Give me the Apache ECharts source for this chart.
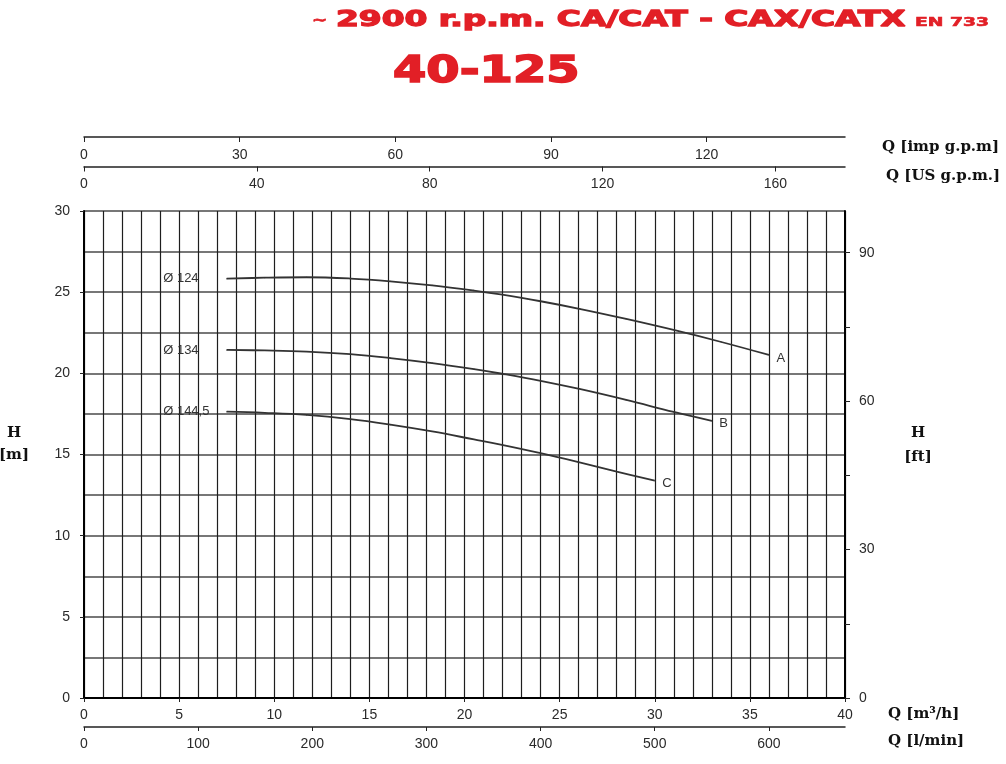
<!DOCTYPE html>
<html>
<head>
<meta charset="utf-8">
<script src="https://cdn.jsdelivr.net/npm/echarts@6/dist/echarts.min.js"></script>
<style>
html,body{margin:0;padding:0;background:#fff;}
#chart{width:1006px;height:764px;}
</style>
</head>
<body>
<div id="chart"></div>
<script>
// ---- data ----
const qA = [7.5, 9.5, 11.7, 14, 16.1, 18.3, 20.5, 21.9, 24, 26.1, 28.5, 31.1, 33.5, 36];
const hA = [25.83, 25.89, 25.92, 25.84, 25.67, 25.42, 25.1, 24.86, 24.44, 23.96, 23.35, 22.64, 21.93, 21.13];
const qB = [7.5, 9.5, 11.7, 14, 16.1, 18.3, 20.5, 21.9, 24, 26.1, 28.5, 31, 33];
const hB = [21.44, 21.41, 21.34, 21.18, 20.94, 20.63, 20.26, 19.99, 19.54, 19.02, 18.36, 17.62, 17.07];
const qC = [7.5, 9.5, 11.7, 14, 16.1, 18.3, 20.5, 21.9, 24, 26.1, 28, 30];
const hC = [17.64, 17.57, 17.44, 17.18, 16.84, 16.42, 15.93, 15.61, 15.08, 14.5, 13.95, 13.39];
const diameters = ['Ø 124', 'Ø 134', 'Ø 144,5'];
const curveLetters = ['A', 'B', 'C'];

const impTicks = [0, 30, 60, 90, 120];
const usTicks = [0, 40, 80, 120, 160];
const lminTicks = [0, 100, 200, 300, 400, 500, 600];
const ftLabelTicks = [0, 30, 60, 90];
const ftAllTicks = [0, 15, 30, 45, 60, 75, 90];

const titleTilde = '~';
const titleText = '2900 r.p.m. CA/CAT - CAX/CATX';
const titleSmall = 'EN 733';
const modelText = '40-125';

// unit conversions
const Q_MAX = 40;              // m3/h
const H_MAX = 30;              // m
const LMIN_PER_M3H = 1000 / 60;
const IMP_PER_M3H = LMIN_PER_M3H / 4.54609;
const US_PER_M3H = LMIN_PER_M3H / 3.785411784;
const FT_PER_M = 3.280839895;

const RED = '#e21f26';
const VGRID = '#1e1e1e';
const HGRID = '#4a4a4a';
const TXT = '#2a2a2a';
const LBLFONT = 'Liberation Sans, Arial, sans-serif';

function buildData(qs, hs, dia, letter) {
  return qs.map((q, i) => {
    const item = { value: [q, hs[i]] };
    if (i === 0) {
      item.label = { show: true, position: 'left', distance: 63, align: 'left',
        formatter: dia, fontSize: 13, color: '#333', fontFamily: LBLFONT };
    } else if (i === qs.length - 1) {
      item.label = { show: true, position: 'right', distance: 7, offset: [0, 3],
        formatter: letter, fontSize: 13, color: '#333', fontFamily: LBLFONT };
    }
    return item;
  });
}

function curve(qs, hs, idx) {
  return {
    type: 'line', xAxisIndex: 0, yAxisIndex: 0, smooth: 0.4,
    symbol: 'circle', symbolSize: 1, showSymbol: true,
    itemStyle: { color: '#333' },
    lineStyle: { color: '#333', width: 1.8 },
    label: { show: false },
    emphasis: { disabled: true },
    data: buildData(qs, hs, diameters[idx], curveLetters[idx])
  };
}

const axisLbl = { fontSize: 14, color: TXT, fontFamily: LBLFONT };

function unitText(x, y, text, align) {
  return { type: 'text', x: x, y: y, style: { text: text, x: 0, y: 0,
    font: 'bold 15px "DejaVu Serif", "Liberation Serif", serif', fill: '#111',
    textAlign: align || 'left', textVerticalAlign: 'middle' } };
}

const chart = echarts.init(document.getElementById('chart'), null, { renderer: 'canvas' });
chart.setOption({
  animation: false,
  backgroundColor: '#fff',
  grid: { left: 84, right: 161, top: 211, bottom: 66, containLabel: false, outerBoundsMode: 'none' },
  xAxis: [
    { type: 'value', position: 'bottom', min: 0, max: Q_MAX, interval: 5,
      axisLine: { show: true, onZero: false, lineStyle: { color: '#000', width: 2 } },
      axisTick: { show: true, length: 4, lineStyle: { color: '#222' } },
      minorTick: { show: false, splitNumber: 5 },
      splitLine: { show: true, lineStyle: { color: VGRID, width: 1.2 } },
      minorSplitLine: { show: true, lineStyle: { color: VGRID, width: 1.2 } },
      axisLabel: Object.assign({ margin: 10 }, axisLbl) },
    { type: 'value', position: 'top', offset: 74, min: 0, max: Q_MAX * IMP_PER_M3H,
      axisLine: { show: true, onZero: false, lineStyle: { color: '#222', width: 1.5 } },
      axisTick: { show: true, inside: true, length: 5, customValues: impTicks, lineStyle: { color: '#222' } },
      splitLine: { show: false },
      axisLabel: Object.assign({ inside: true, margin: 11, customValues: impTicks }, axisLbl) },
    { type: 'value', position: 'top', offset: 44.5, min: 0, max: Q_MAX * US_PER_M3H,
      axisLine: { show: true, onZero: false, lineStyle: { color: '#222', width: 1.5 } },
      axisTick: { show: true, inside: true, length: 5, customValues: usTicks, lineStyle: { color: '#222' } },
      splitLine: { show: false },
      axisLabel: Object.assign({ inside: true, margin: 11, customValues: usTicks }, axisLbl) },
    { type: 'value', position: 'bottom', offset: 29, min: 0, max: Q_MAX * LMIN_PER_M3H,
      axisLine: { show: true, onZero: false, lineStyle: { color: '#222', width: 1.5 } },
      axisTick: { show: true, length: 4, customValues: lminTicks, lineStyle: { color: '#222' } },
      splitLine: { show: false },
      axisLabel: Object.assign({ margin: 10, customValues: lminTicks }, axisLbl) }
  ],
  yAxis: [
    { type: 'value', position: 'left', min: 0, max: H_MAX, interval: 5,
      axisLine: { show: true, onZero: false, lineStyle: { color: '#000', width: 2 } },
      axisTick: { show: true, length: 4, lineStyle: { color: '#222' } },
      minorTick: { show: false, splitNumber: 2 },
      splitLine: { show: true, lineStyle: { color: HGRID, width: 1.6 } },
      minorSplitLine: { show: true, lineStyle: { color: HGRID, width: 1.6 } },
      axisLabel: Object.assign({ margin: 14 }, axisLbl) },
    { type: 'value', position: 'right', min: 0, max: H_MAX * FT_PER_M,
      axisLine: { show: true, onZero: false, lineStyle: { color: '#000', width: 2 } },
      axisTick: { show: true, length: 5, customValues: ftAllTicks, lineStyle: { color: '#222' } },
      splitLine: { show: false },
      axisLabel: Object.assign({ margin: 14, customValues: ftLabelTicks }, axisLbl) }
  ],
  series: [curve(qA, hA, 0), curve(qB, hB, 1), curve(qC, hC, 2)],
  graphic: [
    { type: 'text', x: 312, y: 21, scaleX: 1.4, style: { text: titleTilde, x: 0, y: 0,
      font: 'bold 13px "DejaVu Sans", sans-serif', fill: RED, stroke: RED, lineWidth: 0.8,
      textAlign: 'left', textVerticalAlign: 'middle' } },
    { type: 'text', x: 336, y: 20.2, scaleX: 1.527, style: { text: titleText, x: 0, y: 0,
      font: 'bold 21.5px "DejaVu Sans", sans-serif', fill: RED, stroke: RED, lineWidth: 1.3,
      textAlign: 'left', textVerticalAlign: 'middle' } },
    { type: 'text', x: 915, y: 22.5, scaleX: 1.56, style: { text: titleSmall, x: 0, y: 0,
      font: 'bold 12px "DejaVu Sans", sans-serif', fill: RED, stroke: RED, lineWidth: 0.6,
      textAlign: 'left', textVerticalAlign: 'middle' } },
    { type: 'text', x: 393, y: 72.4, scaleX: 1.31, style: { text: modelText, x: 0, y: 0,
      font: 'bold 36.6px "DejaVu Sans", sans-serif', fill: RED, stroke: RED, lineWidth: 1.6,
      textAlign: 'left', textVerticalAlign: 'middle' } },
    unitText(882, 147, 'Q [imp g.p.m]'),
    unitText(886, 176, 'Q [US g.p.m.]'),
    unitText(888, 714, 'Q [m\u00b3/h]'),
    unitText(888, 741, 'Q [l/min]'),
    unitText(14, 433, 'H', 'center'),
    unitText(14, 455, '[m]', 'center'),
    unitText(918, 433, 'H', 'center'),
    unitText(918, 457, '[ft]', 'center')
  ]
});
</script>
</body>
</html>
